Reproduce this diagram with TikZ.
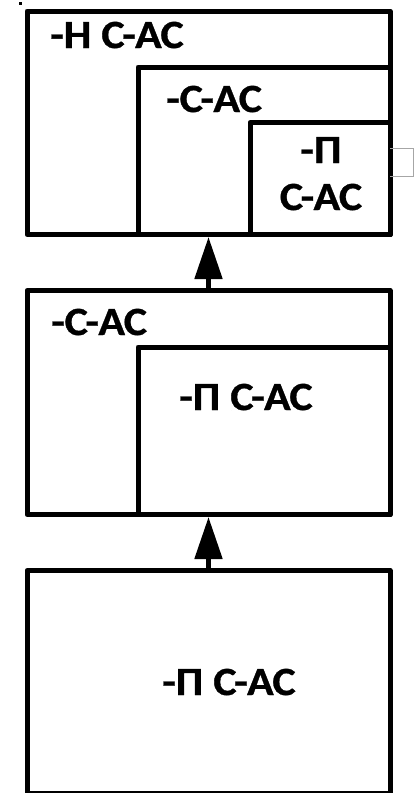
\documentclass[tikz,border=0pt]{standalone}
\usepackage{fontspec}
\setmainfont{Carlito}[BoldFeatures={FakeStretch=1.1,FakeBold=0.8}]
\usetikzlibrary{arrows.meta}
\begin{document}
\begin{tikzpicture}[x=1pt,y=-1pt,
  box/.style={draw=black,line width=5pt,line join=round,inner sep=0pt,anchor=north west},
  lbl/.style={font=\fontsize{40}{44}\selectfont\bfseries,inner sep=0pt,anchor=base west},
  arr/.style={line width=5pt,-{Triangle[length=42pt,width=27pt]}}]
\useasboundingbox (0,0) rectangle (420,793);
% top group
\node[box,minimum width=363pt,minimum height=223.5pt] (top) at (24.5,8.5) {};
\node[box,minimum width=252pt,minimum height=167.5pt] (topA) at (135.5,64.5) {};
\node[box,minimum width=140pt,minimum height=112pt] (topB) at (247.5,120) {};
\node[lbl] (t1) at (50,48) {-Н С-АС};
\node[lbl] (t2) at (166,112) {-С-АС};
\node[lbl,anchor=base] (t3) at (321,163) {-П};
\node[lbl,anchor=base] (t4) at (321,210) {С-АС};
% middle group
\node[box,minimum width=363pt,minimum height=224pt] (mid) at (24.5,288) {};
\node[box,minimum width=252pt,minimum height=167.5pt] (midA) at (135.5,344.5) {};
\node[lbl] (m1) at (51,335) {-С-АС};
\node[lbl] (m2) at (179,410) {-П С-АС};
% bottom group
\node[box,minimum width=363pt,minimum height=222.5pt] (bot) at (24.5,568) {};
\node[lbl] (b1) at (162,695) {-П С-АС};
% arrows
\draw[arr] (mid.north) -- (top.south);
\draw[arr] (bot.north) -- (mid.south);
% small grey bracket and dot
\draw[gray!70,line width=1pt] (390,148) -- (413,148) -- (413,176) -- (390,176);
\fill[black] (18.5,2) rectangle (21.5,5);
\end{tikzpicture}
\end{document}
